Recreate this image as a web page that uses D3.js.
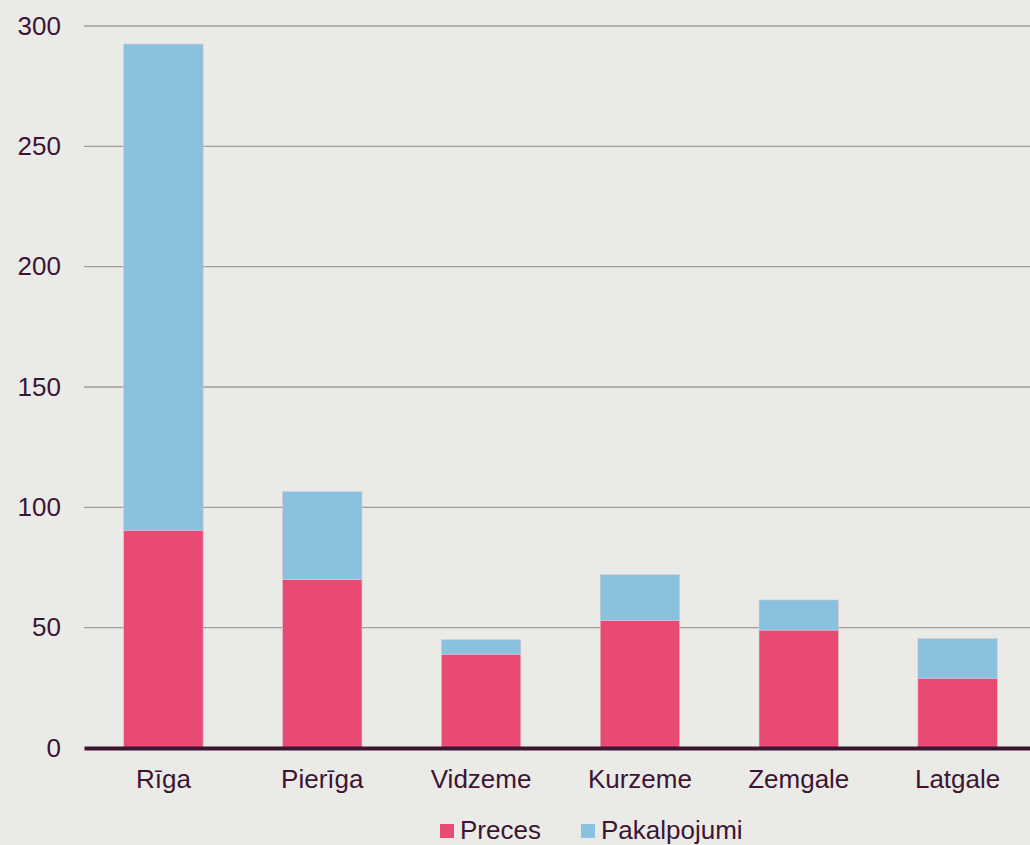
<!DOCTYPE html>
<html>
<head>
<meta charset="utf-8">
<script src="https://cdn.jsdelivr.net/npm/d3@7"></script>
<style>
  body { margin: 0; background: #eaeae6; }
  svg { display: block; }
  svg text { font-family: "Liberation Sans", Arial, sans-serif; font-size: 26px; fill: #3d1533; }
</style>
</head>
<body>
<div class="chart"></div>
<script>
var regions = ["Rīga", "Pierīga", "Vidzeme", "Kurzeme", "Zemgale", "Latgale"];
var preces = [90.5, 70, 39, 53, 49, 29];
var pakalpojumi = [202, 36.5, 6, 19, 12.5, 16.5];
var yTicks = [0, 50, 100, 150, 200, 250, 300];
var seriesNames = ["Preces", "Pakalpojumi"];
var colors = ["#e94a73", "#89c1de"];
var textColor = "#3d1533";

var W = 1030, H = 845;
var margin = {top: 26, right: -7, bottom: 97, left: 84};
var width = W - margin.left - margin.right;
var height = H - margin.top - margin.bottom;

var rows = regions.map(function(r, i) {
  return {region: r, Preces: preces[i], Pakalpojumi: pakalpojumi[i]};
});
var stacked = d3.stack().keys(seriesNames)(rows);

var svg = d3.select(".chart").append("svg")
    .attr("width", W)
    .attr("height", H);

svg.append("rect").attr("width", W).attr("height", H).attr("fill", "#eaeae6");

var g = svg.append("g")
    .attr("transform", "translate(" + margin.left + "," + margin.top + ")");

var x = d3.scaleBand()
  .domain(regions)
  .range([0, width])
  .paddingInner(0.5)
  .paddingOuter(0.25);

var y = d3.scaleLinear()
  .domain([0, 300])
  .range([height, 0]);

// gridlines
g.append("g")
  .selectAll("line")
  .data(yTicks.filter(function(d) { return d > 0; }))
  .enter()
  .append("line")
    .attr("x1", 0)
    .attr("x2", width)
    .attr("y1", function(d) { return y(d); })
    .attr("y2", function(d) { return y(d); })
    .attr("stroke", "#a09d9d")
    .attr("stroke-width", 1.3);

// y labels
var yAxis = g.append("g")
  .call(d3.axisLeft(y).tickValues(yTicks).tickSize(0).tickPadding(23));
yAxis.select(".domain").remove();
yAxis.attr("font-family", null).attr("font-size", null);

// bars
g.selectAll("g.layer")
  .data(stacked)
  .enter()
  .append("g")
    .attr("class", "layer")
    .attr("fill", function(d, i) { return colors[i]; })
  .selectAll("rect")
  .data(function(d) { return d; })
  .enter()
  .append("rect")
    .attr("x", function(d) { return x(d.data.region); })
    .attr("y", function(d) { return y(d[1]); })
    .attr("width", x.bandwidth())
    .attr("height", function(d) { return y(d[0]) - y(d[1]); })
    .attr("stroke", "#dcc6d2")
    .attr("stroke-width", 0.6);

// x axis
var xAxis = g.append("g")
  .attr("transform", "translate(0," + height + ")")
  .call(d3.axisBottom(x).tickSize(0).tickPadding(22));
xAxis.attr("font-family", null).attr("font-size", null);
xAxis.select(".domain")
  .attr("stroke", textColor)
  .attr("stroke-width", 4);

// legend
var legend = svg.append("g")
  .attr("transform", "translate(440,824)");
var legendX = [0, 141];
seriesNames.forEach(function(name, i) {
  var item = legend.append("g").attr("transform", "translate(" + legendX[i] + ",0)");
  item.append("rect")
    .attr("width", 14)
    .attr("height", 14)
    .attr("fill", colors[i]);
  item.append("text")
    .attr("x", 20)
    .attr("y", 15)
    .text(name);
});
</script>
</body>
</html>
